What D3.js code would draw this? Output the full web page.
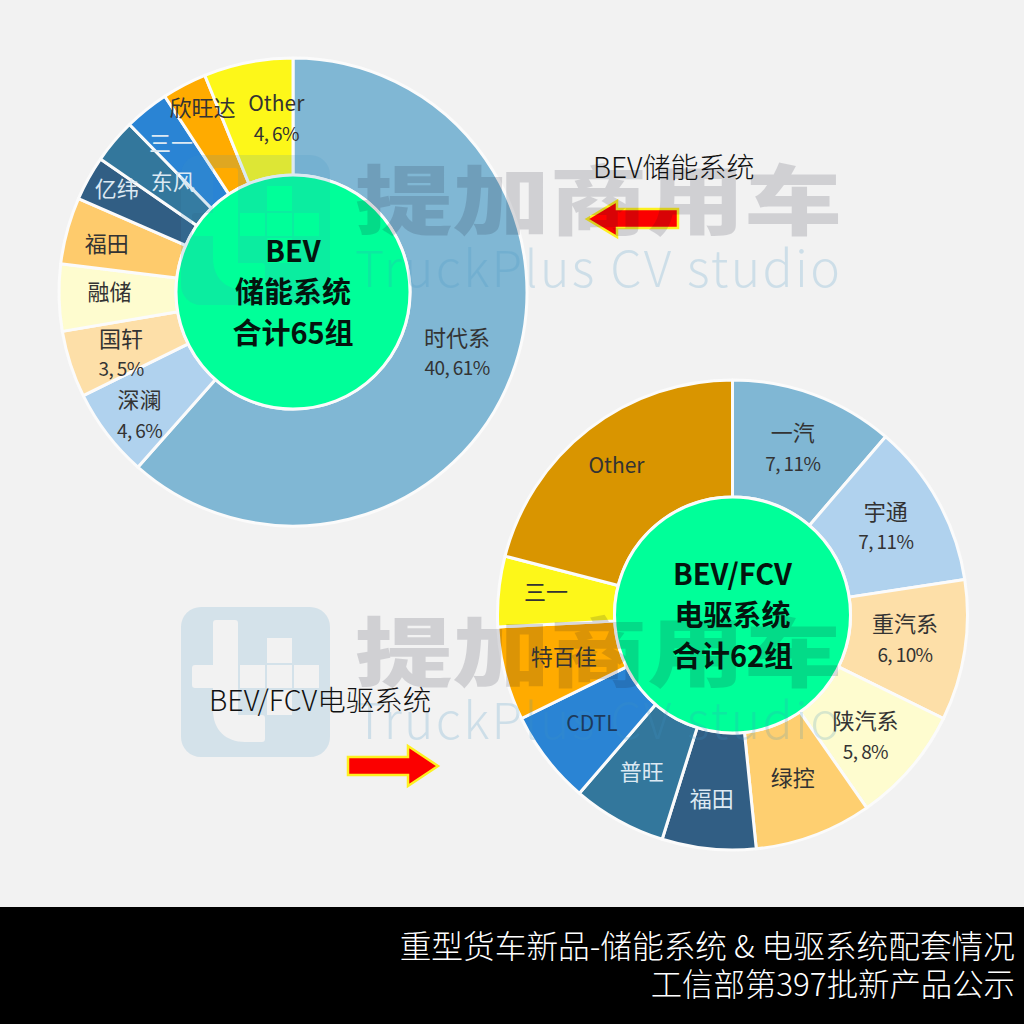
<!DOCTYPE html>
<html lang="zh"><head><meta charset="utf-8">
<script src="https://cdn.jsdelivr.net/npm/d3@7/dist/d3.min.js"></script>
<style>html,body{margin:0;padding:0;background:#f2f2f2}svg{display:block}text{font-family:"Noto Sans CJK SC","Noto Sans",sans-serif}</style>
</head><body><svg id="c" width="1024" height="1024"></svg>
<script>
// ---- data ----
const storageNames = ["时代系","深澜","国轩","融储","福田","亿纬","东风","三一","欣旺达","Other"];
const storageValues = [40,4,3,3,3,2,2,2,2,4];
const storageNotes = ["40, 61%","4, 6%","3, 5%","","","","","","","4, 6%"];
const driveNames = ["一汽","宇通","重汽系","陕汽系","绿控","福田","普旺","CDTL","特百佳","三一","Other"];
const driveValues = [7,7,6,5,5,4,4,4,4,3,13];
const driveNotes = ["7, 11%","7, 11%","6, 10%","5, 8%","","","","","","",""];
const storageTitle = ["BEV","储能系统","合计65组"];
const driveTitle = ["BEV/FCV","电驱系统","合计62组"];

// ---- styling and layout ----
const storageColors = ["#80b7d4","#b0d2ee","#fddfa8","#fefccf","#fecb6c","#315e84","#33779c","#2a84d4","#ffab00","#fdf719"];
const driveColors = ["#80b7d4","#b0d2ee","#fddfa8","#fefccf","#fecf70","#315e84","#33779c","#2a84d4","#ffab00","#fdf719","#d99500"];
const storageInk = ["#333","#333","#333","#333","#333","#dce9f3","#dce9f3","#dce9f3","#333","#333"];
const driveInk = ["#333","#333","#333","#333","#333","#dce9f3","#dce9f3","#1d3a5c","#333","#333","#333"];
const storageNudge = [[0,-1],[-14,17],[-5,8],[-8,-4],[-17,-1],[-23,-17],[14,4],[-12,-12],[-9,-28],[17,-1]];
const driveNudge = [[-1,-1],[-1,-2],[-2,-2],[-1,7],[-1,-2],[-3,9],[-5,3],[-1,0],[2,-2],[-11,-5],[-8,-10]];

const svg = d3.select("#c");
svg.append("rect").attr("width",1024).attr("height",1024).attr("fill","#f2f2f2");

const under = svg.append("g"), wm = svg.append("g"), over = svg.append("g");

function donut(cx,cy,R,r0,names,values,colors,inks,notes,nudge,title){
  const pie = d3.pie().sort(null).value(d=>d)(values);
  const arc = d3.arc().innerRadius(r0).outerRadius(R);
  const g = under.append("g").attr("transform",`translate(${cx},${cy})`);
  g.selectAll("path").data(pie).join("path").attr("d",arc)
    .attr("fill",(d,i)=>colors[i]).attr("stroke","#fbfbfb").attr("stroke-width",3).attr("stroke-linejoin","round");
  g.append("circle").attr("r",r0).attr("fill","#00ff99").attr("stroke","#fbfbfb").attr("stroke-width",3);
  const t = over.append("g").attr("transform",`translate(${cx},${cy})`);
  pie.forEach((d,i)=>{
    const [x,y] = arc.centroid(d);
    const px = x+nudge[i][0], py = y+nudge[i][1];
    const two = notes[i] !== "";
    const latin = /^[A-Za-z]/.test(names[i]);
    const txt = t.append("text").attr("text-anchor","middle").attr("fill",inks[i]).attr("font-size",latin?21:22);
    txt.append("tspan").attr("x",px).attr("y",py+(two?-15:0)+7.5).text(names[i]);
    if(two) txt.append("tspan").attr("x",px).attr("y",py+15+7).attr("font-size",19).attr("letter-spacing",-0.6).text(notes[i]);
  });
  title.forEach((s,i)=>{
    t.append("text").attr("text-anchor","middle").attr("y",-30+i*41).attr("fill","#04140e")
      .attr("font-size",29).attr("font-weight",700).text(s);
  });
}
donut(293,292,234,117,storageNames,storageValues,storageColors,storageInk,storageNotes,storageNudge,storageTitle);
donut(732.5,615,235,118,driveNames,driveValues,driveColors,driveInk,driveNotes,driveNudge,driveTitle);

// arrows
function arrow(pts){
  under.append("path").attr("d",d3.line()(pts)+"Z").attr("fill","#fb0000").attr("stroke","#fdf020")
    .attr("stroke-width",2.5).attr("stroke-linejoin","miter");
}
arrow([[587,219],[617,201],[617,209],[678,209],[678,228],[617,228],[617,237]]);
arrow([[438,766],[408,746],[408,757],[348,757],[348,775],[408,775],[408,786]]);

// watermarks
function watermark(dy){
  const g = wm.append("g").attr("transform",`translate(0,${dy})`);
  g.append("path").attr("fill-rule","evenodd").attr("fill","#3f94c4").attr("opacity",0.17).attr("d",
    "M201,607H310a20,20 0 0 1 20,20V737a20,20 0 0 1 -20,20H201a20,20 0 0 1 -20,-20V627a20,20 0 0 1 20,-20Z"+
    "M216,620H235a3,3 0 0 1 3,3V715H262a3,3 0 0 1 3,3V739a3,3 0 0 1 -3,3H245C226,742 213,730 213,710V688H195a3,3 0 0 1 -3,-3V668a3,3 0 0 1 3,-3H213V623a3,3 0 0 1 3,-3Z"+
    "M240,665H265V688H240Z M267,665H292V688H267Z M294,665H319V688H294Z M267,638H292V663H267Z M267,690H292V715H267Z");
  g.append("text").attr("transform","translate(355,681) scale(1,0.78)").attr("textLength",487).attr("lengthAdjust","spacingAndGlyphs")
    .attr("font-size",97).attr("font-weight",900).attr("fill","#16162c").attr("opacity",0.15).text("提加商用车");
  g.append("text").attr("x",355).attr("y",739).attr("textLength",485)
    .attr("font-size",50).attr("font-family","Lato").attr("font-weight",300).attr("fill","#3f94c4").attr("opacity",0.2).text("TruckPlus  CV studio");
}
watermark(-452);
watermark(0);

// side captions
over.append("text").attr("x",593).attr("y",178).attr("font-size",28).attr("font-weight",300).attr("fill","#111").text("BEV储能系统");
over.append("text").attr("x",209).attr("y",711).attr("font-size",28.5).attr("font-weight",300).attr("fill","#111").text("BEV/FCV电驱系统");

// banner
over.append("rect").attr("y",907).attr("width",1024).attr("height",117).attr("fill","#000");
over.append("text").attr("x",1015).attr("y",958).attr("text-anchor","end").attr("font-size",31.7).attr("font-weight",300).attr("fill","#fff").text("重型货车新品-储能系统 & 电驱系统配套情况");
over.append("text").attr("x",1015).attr("y",996).attr("text-anchor","end").attr("font-size",31.4).attr("font-weight",300).attr("fill","#fff").text("工信部第397批新产品公示");
</script></body></html>
